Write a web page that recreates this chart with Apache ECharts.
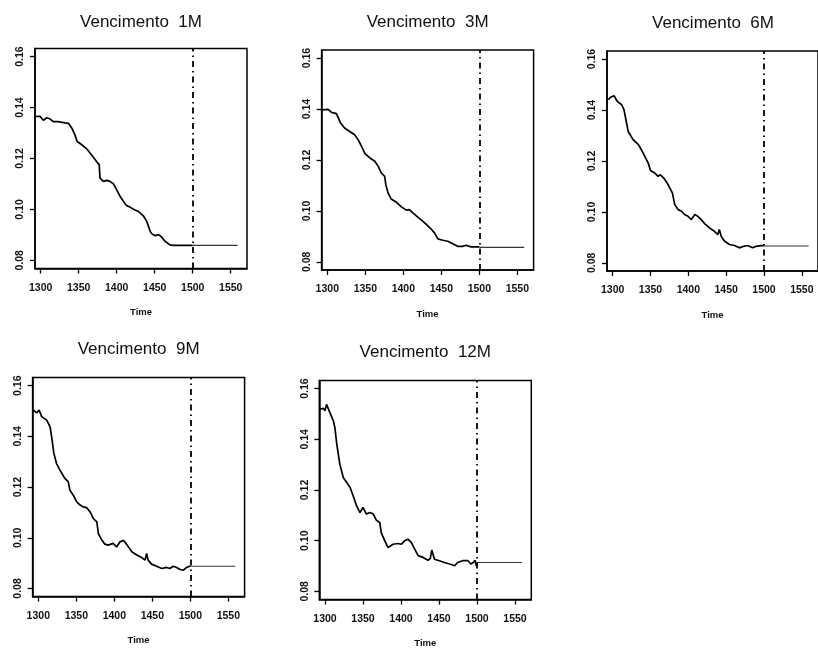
<!DOCTYPE html>
<html>
<head>
<meta charset="utf-8">
<script src="https://cdn.jsdelivr.net/npm/echarts@6/dist/echarts.min.js"></script>
<style>
  html, body { margin: 0; padding: 0; background: #fff; }
  #chart { width: 818px; height: 650px; }
</style>
</head>
<body>
<div id="chart"></div>
<script>
// Term-structure rates by maturity, in-sample path then flat forecast
const maturities = ['1M', '3M', '6M', '9M', '12M'];
const xTicks = [1300, 1350, 1400, 1450, 1500, 1550];
const yTicks = [0.08, 0.10, 0.12, 0.14, 0.16];
const cutoff = 1500;
const forecastEnd = 1559;
const forecastLevel = [0.0859, 0.0857, 0.0866, 0.0888, 0.0914];

const rate1M = [[1293.5,0.1365],[1299,0.1366],[1303.5,0.1350],[1308,0.1360],[1312.5,0.1355],[1316.5,0.1345],[1323,0.1345],[1332,0.1340],[1336.5,0.1338],[1341,0.1319],[1345,0.1293],[1348,0.1267],[1354,0.1254],[1360.5,0.1238],[1367,0.1214],[1373.5,0.1188],[1377,0.1175],[1378,0.1123],[1382.5,0.1110],[1387,0.1114],[1391,0.1110],[1395.5,0.1101],[1400,0.1077],[1404.5,0.1051],[1409,0.1031],[1412.5,0.1016],[1417.5,0.1009],[1422,0.1001],[1428.5,0.0992],[1435,0.0975],[1439.5,0.0953],[1444,0.0914],[1446,0.0905],[1450.5,0.0897],[1455,0.0901],[1459,0.0892],[1463.5,0.0875],[1470,0.0861],[1474.5,0.0859],[1500,0.0859]];

const rate3M = [[1293.5,0.1397],[1301,0.1399],[1305.5,0.1387],[1312,0.1382],[1314.5,0.1381],[1317.5,0.1345],[1323,0.1325],[1329.5,0.1312],[1336,0.1299],[1340.5,0.1280],[1345,0.1254],[1349.5,0.1225],[1356,0.1208],[1362.5,0.1195],[1367,0.1175],[1371,0.1149],[1375.5,0.1136],[1377,0.1103],[1380,0.1070],[1384,0.1047],[1391,0.1034],[1397.5,0.1016],[1404,0.1003],[1408,0.1005],[1412.5,0.0992],[1419,0.0976],[1425.5,0.0960],[1432,0.0942],[1436.5,0.0929],[1438.5,0.0935],[1441,0.0914],[1445.5,0.0890],[1452,0.0885],[1458.5,0.0881],[1465,0.0871],[1471.5,0.0861],[1478,0.0861],[1482.5,0.0865],[1489,0.0859],[1500,0.0859]];

const rate6M = [[1294,0.1441],[1297.5,0.1451],[1302,0.1456],[1306,0.1434],[1312,0.1421],[1315,0.1401],[1317.5,0.1362],[1320.5,0.1316],[1327,0.1284],[1334,0.1264],[1338,0.1244],[1342.5,0.1218],[1347,0.1192],[1350,0.1163],[1355.5,0.1153],[1360,0.1140],[1363,0.1146],[1367.5,0.1133],[1372,0.1114],[1375.5,0.1094],[1379,0.1074],[1382,0.1029],[1386.5,0.1009],[1391,0.1003],[1395,0.0990],[1399.5,0.0983],[1404,0.0970],[1408.5,0.0990],[1412.5,0.0983],[1417,0.0970],[1421.5,0.0954],[1428,0.0937],[1434.5,0.0924],[1439,0.0911],[1441,0.0931],[1443.5,0.0904],[1448,0.0885],[1454.5,0.0872],[1461,0.0868],[1467.5,0.0859],[1473,0.0865],[1478.5,0.0868],[1485,0.0859],[1489.5,0.0865],[1496,0.0868],[1500,0.0868]];

const rate9M = [[1293.5,0.1504],[1298,0.1493],[1301,0.1504],[1302,0.1510],[1304.5,0.1478],[1311,0.1464],[1315.5,0.1438],[1317.5,0.1399],[1320.5,0.1333],[1324,0.1293],[1328.5,0.1267],[1335,0.1234],[1339.5,0.1221],[1341.5,0.1188],[1346,0.1168],[1350.5,0.1142],[1355,0.1129],[1359,0.1122],[1363.5,0.1119],[1368,0.1103],[1372.5,0.1076],[1377,0.1063],[1379,0.1017],[1383.5,0.0991],[1387.5,0.0975],[1392,0.0971],[1398.5,0.0978],[1403,0.0964],[1407.5,0.0984],[1412,0.0990],[1416,0.0975],[1423,0.0945],[1429.5,0.0932],[1436,0.0922],[1440.5,0.0912],[1442.5,0.0938],[1444.5,0.0912],[1449,0.0896],[1455.5,0.0888],[1462.5,0.0879],[1469,0.0883],[1473,0.0879],[1477.5,0.0888],[1482,0.0883],[1486.5,0.0875],[1491,0.0872],[1495,0.0883],[1499,0.0888],[1500,0.0888]];

const rate12M = [[1293.5,0.1519],[1298,0.1522],[1300,0.1512],[1302,0.1538],[1306.5,0.1505],[1311,0.1473],[1313,0.1446],[1315.5,0.1381],[1319.5,0.1302],[1324,0.1249],[1328.5,0.1230],[1333,0.1210],[1337,0.1177],[1341.5,0.1138],[1346,0.1111],[1350,0.1131],[1354.5,0.1105],[1359,0.1111],[1363.5,0.1105],[1367.5,0.1081],[1372,0.1072],[1374,0.1032],[1378.5,0.1000],[1383,0.0973],[1389.5,0.0986],[1396,0.0989],[1400.5,0.0986],[1405,0.1000],[1409,0.1006],[1413.5,0.0993],[1418,0.0967],[1422.5,0.0941],[1429,0.0934],[1435.5,0.0923],[1438.5,0.0930],[1440.5,0.0963],[1444,0.0927],[1450.5,0.0921],[1457,0.0914],[1464,0.0908],[1470.5,0.0901],[1474.5,0.0914],[1481,0.0921],[1488,0.0921],[1492,0.0908],[1495,0.0914],[1497.5,0.0923],[1499,0.0901],[1500,0.0914]];

const rates = [rate1M, rate3M, rate6M, rate9M, rate12M];

// Plot frames (pixels) and shared axis ranges
const panels = [
  { left: 35,    top: 48.5,  width: 212, height: 220, titleY: 22 },
  { left: 321.6, top: 50,    width: 212, height: 220, titleY: 22 },
  { left: 607,   top: 51,    width: 212, height: 220, titleY: 23.5 },
  { left: 32.6,  top: 377.6, width: 212, height: 219, titleY: 349.5 },
  { left: 319.3, top: 380.5, width: 212, height: 219, titleY: 352 }
];
const xMin = 1292.5, xMax = 1571.4;
const yMin = 0.0768, yMax = 0.1632;

const FONT = '"Liberation Sans", Arial, Helvetica, sans-serif';
const INK = '#111';

const grid = [], xAxis = [], yAxis = [], series = [], graphic = [];

panels.forEach((p, i) => {
  grid.push({
    left: p.left, top: p.top, width: p.width, height: p.height,
    show: true, borderColor: '#000', borderWidth: 1.5, backgroundColor: 'transparent'
  });
  xAxis.push({
    gridIndex: i, type: 'value', min: xMin, max: xMax,
    axisLine: { show: true, onZero: false, lineStyle: { color: '#000', width: 1.5 } },
    axisTick: { show: true, inside: false, length: 5, customValues: xTicks, lineStyle: { color: '#000', width: 1.3 } },
    axisLabel: {
      customValues: xTicks, margin: 14, formatter: v => String(v),
      fontSize: 10.5, fontWeight: 'bold', color: INK, fontFamily: FONT
    },
    splitLine: { show: false },
    name: 'Time', nameLocation: 'middle', nameGap: 39,
    nameTextStyle: { fontSize: 9.5, fontWeight: 'bold', color: INK, fontFamily: FONT }
  });
  yAxis.push({
    gridIndex: i, type: 'value', min: yMin, max: yMax,
    axisLine: { show: true, onZero: false, lineStyle: { color: '#000', width: 1.5 } },
    axisTick: { show: true, inside: false, length: 5, customValues: yTicks, lineStyle: { color: '#000', width: 1.3 } },
    axisLabel: {
      customValues: yTicks, rotate: 90, margin: 9,
      formatter: v => v.toFixed(2),
      fontSize: 10.5, fontWeight: 'bold', color: INK, fontFamily: FONT
    },
    splitLine: { show: false }
  });
  series.push({
    type: 'line', xAxisIndex: i, yAxisIndex: i, data: rates[i],
    showSymbol: false, symbol: 'none', clip: true,
    lineStyle: { color: '#000', width: 1.7 },
    markLine: {
      silent: true, symbol: ['none', 'none'], label: { show: false },
      lineStyle: { color: '#000', width: 1.8, type: [6, 4, 1.5, 4] },
      data: [{ xAxis: cutoff }]
    }
  });
  series.push({
    type: 'line', xAxisIndex: i, yAxisIndex: i,
    data: [[cutoff, forecastLevel[i]], [forecastEnd, forecastLevel[i]]],
    showSymbol: false, symbol: 'none',
    lineStyle: { color: '#333', width: 1.1 }
  });
  graphic.push({
    type: 'text', x: p.left + p.width / 2, y: p.titleY,
    style: {
      text: 'Vencimento  ' + maturities[i],
      fontSize: 17, fontFamily: FONT, fill: INK,
      align: 'center', verticalAlign: 'middle'
    }
  });
});

const chart = echarts.init(document.getElementById('chart'), null, { renderer: 'canvas' });
chart.setOption({
  animation: false,
  backgroundColor: '#fff',
  grid, xAxis, yAxis, series, graphic
});
</script>
</body>
</html>
